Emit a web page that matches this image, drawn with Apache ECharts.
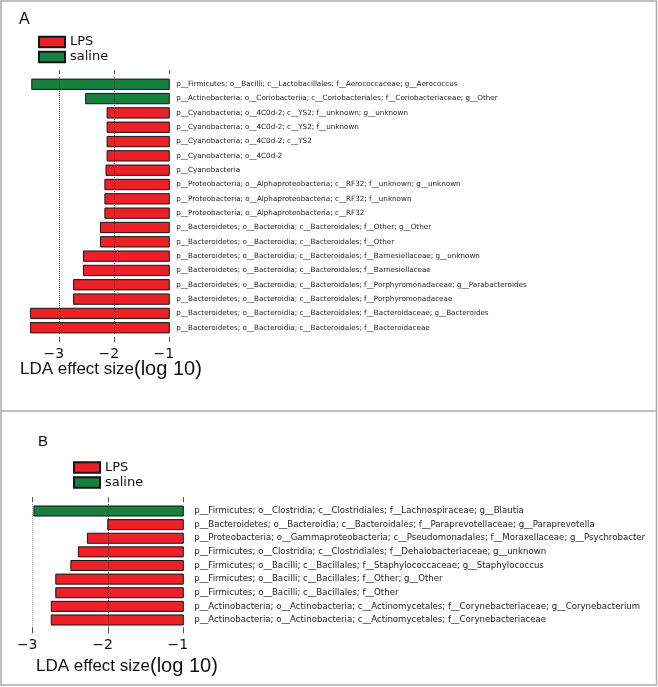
<!DOCTYPE html>
<html><head><meta charset="utf-8">
<script src="https://cdn.jsdelivr.net/npm/echarts@6/dist/echarts.min.js"></script>
<style>html,body{margin:0;padding:0;background:#fff}#c{width:658px;height:687px}</style>
</head><body><div id="c"></div>
<script>
// ---- Panel A data ----
const catsA = [
 'p__Firmicutes; o__Bacilli; c__Lactobacillales; f__Aerococcaceae; g__Aerococcus',
 'p__Actinobacteria; o__Coriobacteriia; c__Coriobacteriales; f__Coriobacteriaceae; g__Other',
 'p__Cyanobacteria; o__4C0d-2; c__YS2; f__unknown; g__unknown',
 'p__Cyanobacteria; o__4C0d-2; c__YS2; f__unknown',
 'p__Cyanobacteria; o__4C0d-2; c__YS2',
 'p__Cyanobacteria; o__4C0d-2',
 'p__Cyanobacteria',
 'p__Proteobacteria; o__Alphaproteobacteria; c__RF32; f__unknown; g__unknown',
 'p__Proteobacteria; o__Alphaproteobacteria; c__RF32; f__unknown',
 'p__Proteobacteria; o__Alphaproteobacteria; c__RF32',
 'p__Bacteroidetes; o__Bacteroidia; c__Bacteroidales; f__Other; g__Other',
 'p__Bacteroidetes; o__Bacteroidia; c__Bacteroidales; f__Other',
 'p__Bacteroidetes; o__Bacteroidia; c__Bacteroidales; f__Barnesiellaceae; g__unknown',
 'p__Bacteroidetes; o__Bacteroidia; c__Bacteroidales; f__Barnesiellaceae',
 'p__Bacteroidetes; o__Bacteroidia; c__Bacteroidales; f__Porphyromonadaceae; g__Parabacteroides',
 'p__Bacteroidetes; o__Bacteroidia; c__Bacteroidales; f__Porphyromonadaceae',
 'p__Bacteroidetes; o__Bacteroidia; c__Bacteroidales; f__Bacteroidaceae; g__Bacteroides',
 'p__Bacteroidetes; o__Bacteroidia; c__Bacteroidales; f__Bacteroidaceae'
];
const salineA = [-3.51, -2.53, null, null, null, null, null, null, null, null, null, null, null, null, null, null, null, null];
const lpsA    = [null, null, -2.14, -2.14, -2.14, -2.14, -2.16, -2.18, -2.18, -2.18, -2.26, -2.26, -2.57, -2.57, -2.75, -2.75, -3.53, -3.53];

// ---- Panel B data ----
const catsB = [
 'p__Firmicutes; o__Clostridia; c__Clostridiales; f__Lachnospiraceae; g__Blautia',
 'p__Bacteroidetes; o__Bacteroidia; c__Bacteroidales; f__Paraprevotellaceae; g__Paraprevotella',
 'p__Proteobacteria; o__Gammaproteobacteria; c__Pseudomonadales; f__Moraxellaceae; g__Psychrobacter',
 'p__Firmicutes; o__Clostridia; c__Clostridiales; f__Dehalobacteriaceae; g__unknown',
 'p__Firmicutes; o__Bacilli; c__Bacillales; f__Staphylococcaceae; g__Staphylococcus',
 'p__Firmicutes; o__Bacilli; c__Bacillales; f__Other; g__Other',
 'p__Firmicutes; o__Bacilli; c__Bacillales; f__Other',
 'p__Actinobacteria; o__Actinobacteria; c__Actinomycetales; f__Corynebacteriaceae; g__Corynebacterium',
 'p__Actinobacteria; o__Actinobacteria; c__Actinomycetales; f__Corynebacteriaceae'
];
const salineB = [-2.99, null, null, null, null, null, null, null, null];
const lpsB    = [null, -2.01, -2.28, -2.40, -2.50, -2.70, -2.70, -2.76, -2.76];

const tickVals = [-3, -2, -1];
const groups = ['LPS', 'saline'];

const RED = '#ec2027', GREEN = '#16803f', EDGE = '#151515';
const fmt = v => (v < 0 ? '\u2212' + Math.abs(v) : String(v));

function xAxes(gridIndex, min, topOff, topLen, botOff, botLen, labMargin) {
  return [
    { type: 'value', gridIndex, position: 'bottom', min, max: -1, offset: botOff,
      axisLine: { show: false }, splitLine: { show: false },
      axisTick: { show: true, customValues: tickVals, length: botLen, lineStyle: { color: '#555' } },
      axisLabel: { show: true, customValues: tickVals, formatter: fmt, margin: labMargin,
        padding: [0, 11, 0, 0],
        fontFamily: 'DejaVu Sans', fontSize: 14, color: '#111' } },
    { type: 'value', gridIndex, position: 'top', min, max: -1, offset: topOff,
      axisLine: { show: false }, splitLine: { show: false },
      axisTick: { show: true, customValues: tickVals, length: topLen, lineStyle: { color: '#555' } },
      axisLabel: { show: false } }
  ];
}
function yAxis(gridIndex, cats, margin, fs) {
  return { type: 'category', gridIndex, data: cats, inverse: true, position: 'right',
    axisLine: { show: false }, axisTick: { show: false }, splitLine: { show: false },
    axisLabel: { margin, fontFamily: 'DejaVu Sans', fontSize: fs, color: '#222', interval: 0 } };
}
function bars(xi, yi, lps, sal, gap, lines) {
  return [
    { name: groups[0], type: 'bar', stack: 's' + xi, xAxisIndex: xi, yAxisIndex: yi, data: lps,
      barCategoryGap: gap, itemStyle: { color: RED, borderColor: EDGE, borderWidth: 1 },
      markLine: { silent: true, symbol: 'none', label: { show: false }, data: lines } },
    { name: groups[1], type: 'bar', stack: 's' + xi, xAxisIndex: xi, yAxisIndex: yi, data: sal,
      barCategoryGap: gap, itemStyle: { color: GREEN, borderColor: EDGE, borderWidth: 1 } }
  ];
}
function legend(left, top) {
  return { orient: 'vertical', left, top, itemWidth: 26, itemHeight: 10.5, itemGap: 1, icon: 'rect',
    data: groups, selectedMode: false,
    textStyle: { fontFamily: 'DejaVu Sans', fontSize: 13, color: '#111', lineHeight: 14 } };
}
const richT = { a: { fontFamily: 'Liberation Sans', fontSize: 17, fontWeight: 'normal', color: '#111' },
                b: { fontFamily: 'Liberation Sans', fontSize: 20, fontWeight: 'normal', color: '#111' } };
const dotA = [{ xAxis: -3, lineStyle: { color: '#333', type: 'dotted', width: 1 } },
              { xAxis: -2, lineStyle: { color: '#333', type: 'dotted', width: 1 } }];
const dotB = [{ xAxis: -3, lineStyle: { color: '#aaa', type: 'dotted', width: 1 } },
              { xAxis: -2, lineStyle: { color: '#333', type: 'dotted', width: 1 } }];

const chart = echarts.init(document.getElementById('c'), null, { renderer: 'canvas' });
chart.setOption({
  animation: false,
  backgroundColor: '#fff',
  title: [
    { text: 'A', left: 14, top: 7, textStyle: { fontFamily: 'Liberation Sans', fontSize: 16, fontWeight: 'normal', color: '#111' } },
    { text: 'B', left: 33, top: 429, textStyle: { fontFamily: 'Liberation Sans', fontSize: 15, fontWeight: 'normal', color: '#111' } },
    { text: '{a|LDA effect size}{b|(log 10)}', left: 15, top: 354, textStyle: { fontWeight: 'normal', rich: richT } },
    { text: '{a|LDA effect size}{b|(log 10)}', left: 31, top: 651, textStyle: { fontWeight: 'normal', rich: richT } }
  ],
  legend: [legend(33, 30), legend(68, 455.5)],
  grid: [
    { left: 29.05, top: 77.1, width: 140.25, height: 257.8, outerBoundsMode: 'none' },
    { left: 31.2, top: 504.2, width: 152.1, height: 122.6, outerBoundsMode: 'none' }
  ],
  xAxis: [].concat(xAxes(0, -3.55, 3, 4, 2, 5, 10.5), xAxes(1, -3.02, 2, 5, 0.5, 6, 11.5)),
  yAxis: [yAxis(0, catsA, 7, 7.2), yAxis(1, catsB, 11, 8.6)],
  series: [].concat(bars(0, 0, lpsA, salineA, '21%', dotA), bars(2, 1, lpsB, salineB, '19%', dotB)),
  graphic: [
    { type: 'rect', shape: { x: 1, y: 1, width: 655.5, height: 684 }, style: { fill: null, stroke: '#aaa', lineWidth: 1.5 }, silent: true },
    { type: 'line', shape: { x1: 1, y1: 411, x2: 656.5, y2: 411 }, style: { stroke: '#aaa', lineWidth: 1.5 }, silent: true }
  ]
});
</script></body></html>
